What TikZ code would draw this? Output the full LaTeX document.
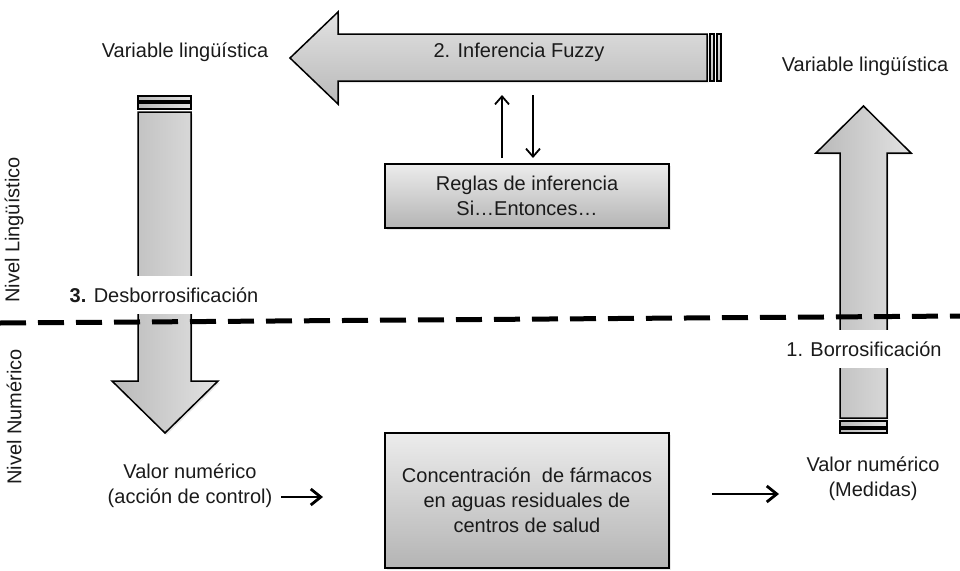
\documentclass[tikz,border=0pt]{standalone}
\usepackage{fontspec}
\setmainfont{Liberation Sans}
\usetikzlibrary{arrows.meta,shadows}
\definecolor{arrdark}{HTML}{B9B9B9}
\definecolor{arrlight}{HTML}{E2E2E2}
\definecolor{boxlight}{HTML}{ECECEC}
\definecolor{boxdark}{HTML}{B4B4B4}
\definecolor{txt}{HTML}{1A1A1A}
\begin{document}
\begin{tikzpicture}[x=1pt,y=-1pt,
  bigarrow/.style={draw=black, line width=1.5pt, line join=miter,
    drop shadow={shadow xshift=1.5pt, shadow yshift=-2pt, opacity=0.18}},
  stripe/.style={draw=black, line width=1.3pt},
  hgrad/.style={left color=arrdark, right color=arrlight},
  vgrad/.style={top color=arrlight, bottom color=arrdark},
  boxnode/.style={draw=black, line width=1.2pt, top color=boxlight, bottom color=boxdark,
    minimum width=284pt, align=center, font=\fontsize{20}{25}\selectfont, text=txt,
    drop shadow={shadow xshift=1.5pt, shadow yshift=-2pt, opacity=0.18}},
  lbl/.style={font=\fontsize{20}{25}\selectfont, text=txt, align=center, inner sep=0pt},
  steplbl/.style={lbl, fill=white, minimum height=38pt, inner xsep=3pt},
  thinarrow/.style={line width=1.8pt, -{Straight Barb[length=8pt,width=14pt]}},
  thickarrow/.style={line width=2.8pt, -{Straight Barb[length=10pt,width=16pt]}},
  levelline/.style={line width=5pt, dash pattern=on 26pt off 12pt}
]
\useasboundingbox (0,0) rectangle (960,570);

% 2. Inferencia Fuzzy (left-pointing arrow)
\path[bigarrow, vgrad] (707,34) -- (338,34) -- (338,12) -- (290,58) -- (338,104) -- (338,81) -- (707,81) -- cycle;
\path[stripe, vgrad] (710,34) rectangle (714,81);
\path[stripe, vgrad] (717,34) rectangle (721,81);

% 3. Desborrosificacion (down arrow)
\path[bigarrow, hgrad] (138,112) -- (191,112) -- (191,381) -- (218,381) -- (165,433) -- (112,381) -- (138,381) -- cycle;
\path[stripe, hgrad] (138,103) rectangle (191,109);
\path[stripe, hgrad] (138,96) rectangle (191,101);

% 1. Borrosificacion (up arrow)
\path[bigarrow, hgrad] (840,418) -- (840,153) -- (816,153) -- (863.5,106) -- (911,153) -- (887,153) -- (887,418) -- cycle;
\path[stripe, hgrad] (840,421) rectangle (887,427);
\path[stripe, hgrad] (840,429) rectangle (887,433);

% boxes
\node[boxnode, minimum height=64pt] (reglas) at (527,196) {Reglas de inferencia\\Si\ldots Entonces\ldots};
\node[boxnode, minimum height=135pt] (conc) at (527,500.5) {Concentración~ de fármacos\\en aguas residuales de\\centros de salud};

% labels
\node[lbl] (vlL) at (185,52) {Variable lingüística};
\node[lbl] (vlR) at (865,66) {Variable lingüística};
\node[lbl] (inf) at (519,52) {2. Inferencia Fuzzy};
\node[steplbl] (des) at (164,295) {\textbf{3.} Desborrosificación};
\node[steplbl] (bor) at (864,349) {1. Borrosificación};
\node[lbl, rotate=90] (nl) at (14,230) {Nivel Lingüístico};
\node[lbl, rotate=90] (nn) at (14,417) {Nivel Numérico};
\node[lbl] (valL) at (190,486) {Valor numérico\\(acción de control)};
\node[lbl] (valR) at (873,479) {Valor numérico\\(Medidas)};

% small arrows between inference arrow and rules box
\coordinate (ua1) at (502,158);
\coordinate (ua2) at (502,95);
\coordinate (da1) at (533,95);
\coordinate (da2) at (533,158);
\draw[thinarrow] (ua1) -- (ua2);
\draw[thinarrow] (da1) -- (da2);

% bottom arrows
\coordinate (la1) at (281,497);
\coordinate (la2) at (323,497);
\coordinate (ra1) at (712,494);
\coordinate (ra2) at (779,494);
\draw[thickarrow] (la1) -- (la2);
\draw[thickarrow] (ra1) -- (ra2);

% level separator
\coordinate (dl) at (0,323);
\coordinate (dr) at (960,316);
\draw[levelline] (dl) -- (dr);
\end{tikzpicture}
\end{document}
